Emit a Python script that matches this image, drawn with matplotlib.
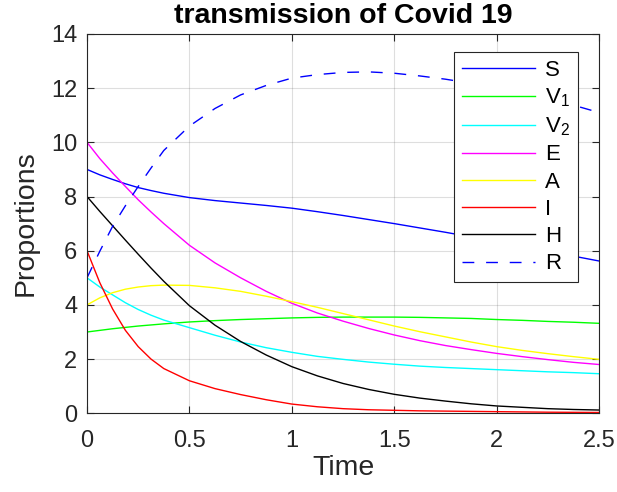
import matplotlib
matplotlib.use("Agg")
import matplotlib.pyplot as plt
import numpy as np

plt.rcParams['font.family'] = ['Liberation Sans', 'DejaVu Sans']
plt.rcParams['mathtext.fontset'] = 'custom'
plt.rcParams['mathtext.rm'] = 'Liberation Sans'
plt.rcParams['mathtext.it'] = 'Liberation Sans:italic'

# time samples (denser at the start where curves bend fast) and values
t = [0, 0.0625, 0.125, 0.1875, 0.25, 0.3125, 0.375, 0.5, 0.625, 0.75, 0.875,
     1.0, 1.125, 1.25, 1.375, 1.5, 1.625, 1.75, 1.875, 2.0, 2.125, 2.25, 2.375, 2.5]
S = [9.0, 8.8, 8.63, 8.47, 8.33, 8.22, 8.12, 7.96, 7.85, 7.76, 7.67,
     7.57, 7.44, 7.3, 7.15, 7.0, 6.84, 6.68, 6.51, 6.34, 6.16, 5.98, 5.8, 5.62]
V1 = [3.0, 3.06, 3.12, 3.17, 3.22, 3.26, 3.3, 3.37, 3.42, 3.46, 3.49,
      3.52, 3.54, 3.55, 3.55, 3.55, 3.54, 3.52, 3.5, 3.46, 3.43, 3.39, 3.36, 3.32]
V2 = [5.0, 4.66, 4.37, 4.08, 3.83, 3.62, 3.44, 3.16, 2.88, 2.63, 2.42,
      2.25, 2.1, 1.99, 1.89, 1.81, 1.74, 1.69, 1.65, 1.61, 1.57, 1.53, 1.5, 1.46]
E = [10.0, 9.4, 8.87, 8.37, 7.88, 7.43, 7.0, 6.2, 5.55, 5.0, 4.5,
     4.06, 3.7, 3.4, 3.13, 2.89, 2.68, 2.5, 2.35, 2.21, 2.09, 1.98, 1.88, 1.8]
A = [4.0, 4.26, 4.45, 4.58, 4.66, 4.71, 4.73, 4.72, 4.63, 4.5, 4.32,
     4.12, 3.91, 3.68, 3.45, 3.22, 3.01, 2.82, 2.63, 2.46, 2.32, 2.2, 2.09, 1.99]
I = [6.0, 4.82, 3.85, 3.06, 2.46, 2.0, 1.65, 1.2, 0.91, 0.69, 0.5,
     0.34, 0.24, 0.17, 0.13, 0.11, 0.09, 0.08, 0.07, 0.06, 0.05, 0.04, 0.035, 0.03]
H = [8.0, 7.45, 6.92, 6.39, 5.87, 5.36, 4.87, 3.97, 3.25, 2.65, 2.15,
     1.72, 1.38, 1.1, 0.88, 0.7, 0.56, 0.45, 0.35, 0.27, 0.22, 0.17, 0.14, 0.12]
R = [5.0, 5.98, 6.9, 7.66, 8.37, 9.05, 9.7, 10.6, 11.25, 11.75, 12.1,
     12.37, 12.5, 12.58, 12.6, 12.55, 12.45, 12.33, 12.18, 12.0, 11.8, 11.6, 11.37, 11.1]

series = [S, V1, V2, E, A, I, H, R]
labels = ['S', r'V$_1$', r'V$_2$', 'E', 'A', 'I', 'H', 'R']
colors = ['#0000ff', '#00ff00', '#00ffff', '#ff00ff', '#ffff00', '#ff0000', '#000000', '#0000ff']

fig = plt.figure(figsize=(6.17, 4.92), dpi=100)
ax = fig.add_axes([0.141, 0.16, 0.830, 0.771])

for y, lab, c in zip(series, labels, colors):
    if lab == 'R':
        ax.plot(t, y, color=c, lw=1.0, ls='--', dashes=(8.5, 8.5), label=lab)
    else:
        ax.plot(t, y, color=c, lw=1.0, label=lab)

ax.set_xlim(0, 2.5)
ax.set_ylim(0, 14)
ax.set_xticks([0, 0.5, 1, 1.5, 2, 2.5])
ax.set_xticklabels(['0', '0.5', '1', '1.5', '2', '2.5'])
ax.set_yticks(range(0, 15, 2))
ax.grid(True, color='#262626', alpha=0.15, lw=0.8)
ax.tick_params(direction='in', top=True, right=True, labelsize=17,
               colors='#262626', length=5)
ax.tick_params(axis='x', pad=12)
ax.tick_params(axis='y', pad=7)
for sp in ax.spines.values():
    sp.set_color('#262626')
    sp.set_linewidth(0.8)

ax.set_xlabel('Time', fontsize=20.5, color='#262626', labelpad=2)
ax.set_ylabel('Proportions', fontsize=20.5, color='#262626', labelpad=9)
ax.set_title('transmission of Covid 19', fontsize=20.5, fontweight='bold', pad=8)

leg = ax.legend(loc='upper right', bbox_to_anchor=(0.958, 0.953), fontsize=16,
                handlelength=3.3, fancybox=False, framealpha=1, borderaxespad=0,
                edgecolor='#262626', borderpad=0.35, labelspacing=0.28,
                handletextpad=0.45)
leg.get_frame().set_linewidth(0.8)

fig.savefig('out.png', dpi=100)
